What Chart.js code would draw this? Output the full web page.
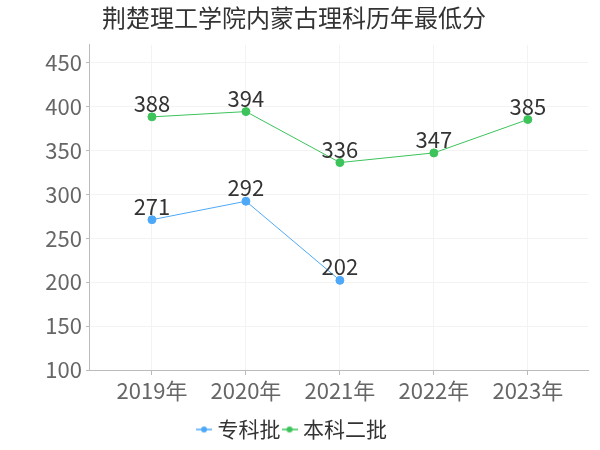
<!DOCTYPE html>
<html>
<head>
<meta charset="utf-8">
<script src="https://cdn.jsdelivr.net/npm/chart.js@4"></script>
<style>
    html, body { margin: 0; padding: 0; background: #fff; }
    #wrap { width: 600px; height: 450px; }
</style>
</head>
<body>
<div id="wrap"><canvas id="score-chart" width="600" height="450"></canvas></div>
<script>
const years = ['2019年', '2020年', '2021年', '2022年', '2023年'];
const zhuanke = [271, 292, 202, null, null];
const benke2 = [388, 394, 336, 347, 385];
const yTicks = [100, 150, 200, 250, 300, 350, 400, 450];

const FONT = '"Noto Sans CJK SC", "Noto Sans", sans-serif';
const BLUE = '#4ea8f8';
const GREEN = '#3cc35a';

// value labels above each point
const pointLabels = {
    id: 'pointLabels',
    afterDatasetsDraw(chart) {
        const ctx = chart.ctx;
        ctx.save();
        ctx.font = '22px ' + FONT;
        ctx.fillStyle = '#333';
        ctx.textAlign = 'center';
        ctx.textBaseline = 'alphabetic';
        chart.data.datasets.forEach((ds, i) => {
            chart.getDatasetMeta(i).data.forEach((pt, j) => {
                const v = ds.data[j].y;
                if (v == null) return;
                ctx.fillText(v, pt.x, pt.y - 5);
            });
        });
        ctx.restore();
    }
};

// little line-with-dot legend symbol
function legendIcon(color) {
    const c = document.createElement('canvas');
    c.width = 16; c.height = 8;
    const g = c.getContext('2d');
    g.strokeStyle = color;
    g.lineWidth = 1.5;
    g.beginPath(); g.moveTo(0, 4); g.lineTo(16, 4); g.stroke();
    g.fillStyle = color;
    g.beginPath(); g.arc(8, 4, 3, 0, Math.PI * 2); g.fill();
    return c;
}

function toPoints(arr) {
    return arr.map((v, i) => ({ x: i, y: v }));
}

const ctx = document.getElementById('score-chart').getContext('2d');

new Chart(ctx, {
    type: 'line',
    data: {
        datasets: [{
            label: '专科批',
            data: toPoints(zhuanke),
            borderColor: BLUE,
            backgroundColor: BLUE,
            borderWidth: 1,
            pointRadius: 4,
            pointBackgroundColor: BLUE,
            spanGaps: false
        },
        {
            label: '本科二批',
            data: toPoints(benke2),
            borderColor: GREEN,
            backgroundColor: GREEN,
            borderWidth: 1,
            pointRadius: 4,
            pointBackgroundColor: GREEN
        }]
    },
    options: {
        responsive: false,
        animation: false,
        layout: { padding: { left: 0, right: 12, top: 0, bottom: 0 } },
        plugins: {
            title: {
                display: true,
                text: '荆楚理工学院内蒙古理科历年最低分',
                color: '#333',
                font: { size: 24, family: FONT, weight: 'normal' },
                padding: { top: 3, bottom: 13 }
            },
            legend: {
                position: 'bottom',
                labels: {
                    color: '#333',
                    font: { size: 21, family: FONT },
                    usePointStyle: true,
                    pointStyleWidth: 6,
                    boxHeight: 8,
                    padding: 6,
                    generateLabels(chart) {
                        const items = Chart.defaults.plugins.legend.labels.generateLabels(chart);
                        items.forEach((it, i) => {
                            it.pointStyle = legendIcon(chart.data.datasets[i].borderColor);
                        });
                        return items;
                    }
                }
            },
            tooltip: { enabled: false }
        },
        scales: {
            x: {
                type: 'linear',
                min: -0.67,
                max: 4.64,
                afterFit(scale) { scale.height = 43; },
                afterBuildTicks(scale) {
                    scale.ticks = years.map((y, i) => ({ value: i }));
                },
                grid: { color: '#f3f3f3', tickColor: '#bbb', tickLength: 5 },
                border: { color: '#bbb' },
                ticks: {
                    color: '#666',
                    padding: 2,
                    font: { size: 22, family: FONT },
                    callback: (v) => years[v]
                }
            },
            y: {
                min: 100,
                max: 470,
                afterFit(scale) { scale.width = 89; },
                afterBuildTicks(scale) {
                    scale.ticks = yTicks.map(v => ({ value: v }));
                },
                grid: { color: '#f3f3f3', tickColor: '#bbb', tickLength: 3 },
                border: { color: '#bbb' },
                ticks: {
                    color: '#666',
                    padding: 4,
                    font: { size: 22, family: FONT }
                }
            }
        }
    },
    plugins: [pointLabels]
});
</script>
</body>
</html>
